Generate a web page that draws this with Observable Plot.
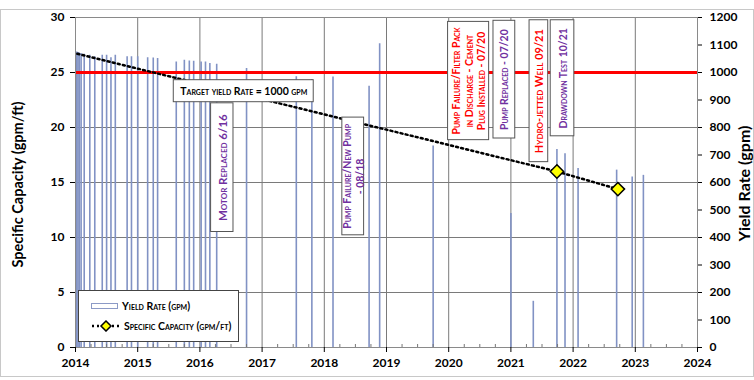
<!DOCTYPE html>
<html><head><meta charset="utf-8">
<script src="https://cdn.jsdelivr.net/npm/d3@7"></script>
<script src="https://cdn.jsdelivr.net/npm/@observablehq/plot@0.6"></script>
<style>
body{margin:0;background:#fff;font-family:Lato,"Open Sans",sans-serif;}
#wrap{position:relative;width:754px;height:380px;overflow:hidden;background:#fff}
#frame{position:absolute;left:0;top:9px;width:752px;height:366px;border:1px solid #c8c8c8;pointer-events:none}
.lab{position:absolute;font-weight:bold;color:#000;white-space:nowrap;transform-origin:center center}
#legend{position:absolute;left:78px;top:290px;width:161px;height:52px;border:1.5px solid #444;background:#fff;font-size:10.5px;font-weight:bold;font-variant:small-caps;box-sizing:border-box}
#legend .row{position:absolute;left:12px;display:flex;align-items:center;gap:3px}
</style></head><body><div id="wrap"></div><script>
// ---- data ----
const yieldDates = [2014.02, 2014.04, 2014.06, 2014.09, 2014.14, 2014.23, 2014.31, 2014.43, 2014.50, 2014.57, 2014.64,
  2014.83, 2014.90, 2015.00, 2015.16, 2015.25, 2015.32, 2015.62, 2015.75, 2015.83, 2015.90, 2016.02, 2016.09,
  2016.16, 2016.27, 2016.75, 2017.55, 2017.80, 2018.14, 2018.72, 2018.89, 2019.75, 2021.00, 2021.36, 2021.74,
  2021.87, 2022.08, 2022.70, 2022.95, 2023.13];
const yieldValues = [1075, 1073, 1071, 1069, 1066, 1063, 1057, 1063, 1063, 1054, 1063,
  1057, 1057, 1057, 1054, 1053, 1051, 1038, 1045, 1042, 1041, 1038, 1038,
  1033, 1030, 1015, 985, 975, 984, 950, 1105, 733, 487, 168, 720,
  705, 651, 645, 620, 626];
const scDates = [2014.03, 2021.74, 2022.72];
const scValues = [26.7, 16.0, 14.4];
const scMarked = [false, true, true];
const targetYield = 1000;
const yearTicks = [2014, 2015, 2016, 2017, 2018, 2019, 2020, 2021, 2022, 2023, 2024];
const leftTicks = [0, 5, 10, 15, 20, 25, 30];
const rightTicks = [0, 100, 200, 300, 400, 500, 600, 700, 800, 900, 1000, 1100, 1200];
const annotations = [
  {text: "Motor Replaced 6/16", color: "#7030a0"},
  {text: "Pump Failure/New Pump\n- 08/18", color: "#7030a0"},
  {text: "Pump Failure/Filter Pack\nin Discharge - Cement\nPlug Installed - 07/20", color: "#ff0000"},
  {text: "Pump Replaced - 07/20", color: "#7030a0"},
  {text: "Hydro-jetted Well 09/21", color: "#ff0000"},
  {text: "Drawdown Test 10/21", color: "#7030a0"}
];
const targetLabel = "Target yield Rate = 1000 gpm";
// ---- layout (box extents in chart units) ----
const annBoxes = [
  [2016.18, 2016.54, 10.5, 22.2],
  [2018.29, 2018.64, 10.2, 20.9],
  [2019.99, 2020.65, 18.85, 29.6],
  [2020.72, 2021.07, 19.0, 29.7],
  [2021.30, 2021.60, 16.85, 29.75],
  [2021.64, 2022.02, 19.2, 29.75]
];
const annFont = [11.5, 10.5, 10.5, 10.5, 11, 10.5];
const targetBox = [2015.58, 2017.83, 22.3, 24.3];
const RATIO = 40; // gpm per gpm/ft unit on the twin axes

const bars = yieldDates.map((d, i) => ({date: d, gpm: yieldValues[i]}));
const sc = scDates.map((d, i) => ({date: d, v: scValues[i], m: scMarked[i]}));
const quarters = d3.range(2014, 2024.01, 0.25).filter(q => q % 1 !== 0);
const ann = annotations.map((a, i) => ({...a, fs: annFont[i], x1: annBoxes[i][0], x2: annBoxes[i][1], y1: annBoxes[i][2], y2: annBoxes[i][3]}));

const chart = Plot.plot({
  width: 754, height: 380,
  marginLeft: 75, marginRight: 57, marginTop: 17, marginBottom: 33,
  style: {fontFamily: "Lato, 'Open Sans', sans-serif", fontSize: "12px", fontWeight: "bold", color: "#000", background: "transparent"},
  x: {domain: [2014, 2024]},
  y: {domain: [0, 30]},
  marks: [
    Plot.gridX(yearTicks, {stroke: "#7a7a7a", strokeOpacity: 1}),
    Plot.gridY(leftTicks, {stroke: "#7a7a7a", strokeOpacity: 1}),
    Plot.ruleX(bars, {x: "date", y1: 0, y2: d => d.gpm / RATIO, stroke: "#8192c4", strokeWidth: 1.6}),
    Plot.ruleY([targetYield / RATIO], {stroke: "#ff0000", strokeWidth: 3}),
    Plot.line(sc, {x: "date", y: "v", stroke: "#000", strokeWidth: 2.5, strokeDasharray: "2,3.2"}),
    Plot.dot(sc.filter(d => d.m), {x: "date", y: "v", symbol: "diamond2", r: 6, fill: "#ffff00", stroke: "#000", strokeWidth: 1.5}),
    Plot.rect([targetBox], {x1: d => d[0], x2: d => d[1], y1: d => d[2], y2: d => d[3], fill: "#fff", stroke: "#555", strokeWidth: 1}),
    Plot.text([targetLabel], {x: (targetBox[0] + targetBox[1]) / 2, y: (targetBox[2] + targetBox[3]) / 2, text: d => d, fontSize: 10.5, fontWeight: "bold", fontVariant: "small-caps", fill: "#000"}),
    Plot.rect(ann, {x1: "x1", x2: "x2", y1: "y1", y2: "y2", fill: "#fff", stroke: "#555", strokeWidth: 1}),
    ...ann.map(a => Plot.text([a], {x: d => (d.x1 + d.x2) / 2, y: d => (d.y1 + d.y2) / 2, text: "text", rotate: -90, fill: a.color, fontSize: a.fs, fontWeight: "bold", fontVariant: "small-caps", lineHeight: 1.2})),
    Plot.frame({stroke: "#8a8a8a"}),
    Plot.axisX({ticks: yearTicks, tickFormat: "d", tickSize: 5, tickPadding: 6, fontSize: 12, fontWeight: "bold", label: null}),
    Plot.axisX({ticks: quarters, tickSize: 3, dy: -3, tickFormat: () => "", label: null, stroke: "#777"}),
    Plot.axisY({ticks: leftTicks, tickSize: 5, tickPadding: 6, fontSize: 12, fontWeight: "bold", label: null}),
    Plot.axisY({anchor: "right", ticks: rightTicks.map(v => v / RATIO), tickFormat: v => String(Math.round(v * RATIO)), tickSize: 4, tickPadding: 8, fontSize: 12, fontWeight: "bold", label: null})
  ]
});
const wrap = document.getElementById("wrap");
chart.style.position = "absolute"; chart.style.left = "0"; chart.style.top = "0";
wrap.appendChild(chart);

const fr = document.createElement("div"); fr.id = "frame"; wrap.appendChild(fr);

function addLabel(text, cx, cy, size) {
  const d = document.createElement("div");
  d.className = "lab"; d.textContent = text; d.style.fontSize = size + "px";
  wrap.appendChild(d);
  const w = d.offsetWidth, h = d.offsetHeight;
  d.style.left = (cx - w / 2) + "px"; d.style.top = (cy - h / 2) + "px";
  d.style.transform = "rotate(-90deg)";
}
addLabel("Specific Capacity (gpm/ft)", 18, 184, 14.5);
addLabel("Yield Rate (gpm)", 744, 183, 16);

const lg = document.createElement("div"); lg.id = "legend";
lg.innerHTML = `<div class="row" style="top:9px"><svg width="28" height="8"><rect x="0.5" y="1.5" width="26" height="5" fill="#fff" stroke="#8c9ac6"/></svg><span>Yield Rate (gpm)</span></div>
<div class="row" style="top:29px"><svg width="30" height="12"><line x1="1" y1="6" x2="29" y2="6" stroke="#000" stroke-width="2.5" stroke-dasharray="2,3"/><path d="M15,1 L20,6 L15,11 L10,6 Z" fill="#ffff00" stroke="#000" stroke-width="1.5"/></svg><span>Specific Capacity (gpm/ft)</span></div>`;
wrap.appendChild(lg);
</script></body></html>
